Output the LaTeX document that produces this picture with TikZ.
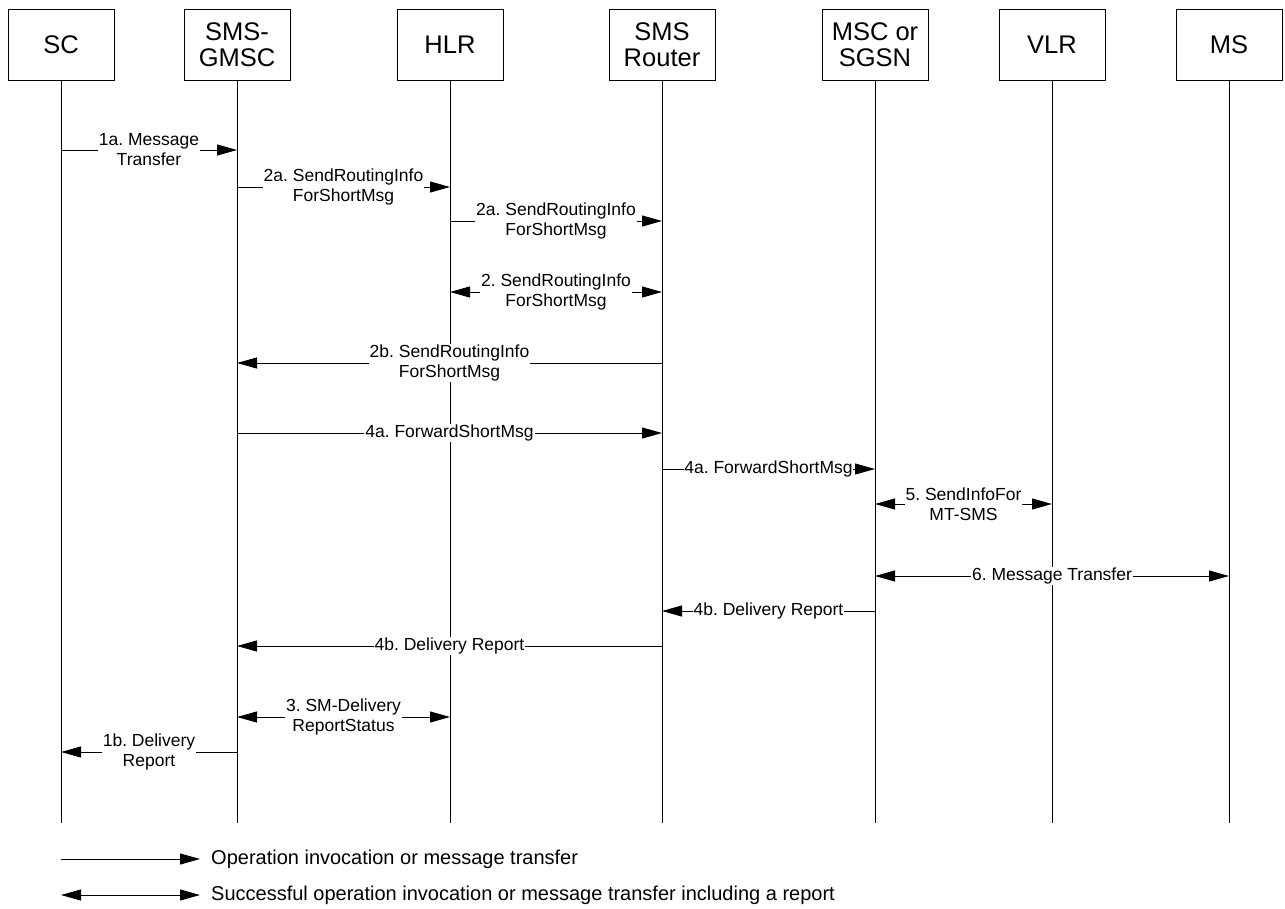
\documentclass[tikz,border=0pt]{standalone}
\usepackage{fontspec}
\setmainfont{Liberation Sans}
\usetikzlibrary{arrows.meta}
\frenchspacing

\begin{document}
\begin{tikzpicture}[x=1pt,y=-1pt,
  ent/.style={draw,line width=0.9pt,minimum width=106pt,minimum height=71pt,align=center,font=\fontsize{25.5}{26}\selectfont},
  life/.style={line width=0.9pt},
  msg/.style={line width=0.9pt,-{Triangle[length=20pt,width=11pt]}},
  both/.style={line width=0.9pt,{Triangle[length=20pt,width=11pt]}-{Triangle[length=20pt,width=11pt]}},
  lbl/.style={fill=white,inner sep=1pt,align=center,font=\fontsize{17.5}{20}\selectfont},
  leg/.style={anchor=west,inner sep=0pt,font=\fontsize{20}{22}\selectfont}]
\useasboundingbox (0,0) rectangle (1285,908);
% entities
\node[ent] (sc) at (61,44.5) {SC};
\node[ent] (gmsc) at (237,44.5) {SMS-\\GMSC};
\node[ent] (hlr) at (450,44.5) {HLR};
\node[ent] (rtr) at (662,44.5) {SMS\\Router};
\node[ent] (msc) at (875,44.5) {MSC or\\SGSN};
\node[ent] (vlr) at (1052,44.5) {VLR};
\node[ent] (ms) at (1229,44.5) {MS};
\foreach \n in {sc,gmsc,hlr,rtr,msc,vlr,ms}
  \draw[life] (\n.south) -- (\n |- 0,823);
% messages
\draw[msg] (sc |- 0,150) -- node[lbl] {1a. Message\\Transfer} (gmsc |- 0,150);
\draw[msg] (gmsc |- 0,187) -- node[lbl] {2a. SendRoutingInfo\\ForShortMsg} (hlr |- 0,187);
\draw[msg] (hlr |- 0,221) -- node[lbl] {2a. SendRoutingInfo\\ForShortMsg} (rtr |- 0,221);
\draw[both] (hlr |- 0,292) -- node[lbl] {2. SendRoutingInfo\\ForShortMsg} (rtr |- 0,292);
\draw[msg] (rtr |- 0,363) -- node[lbl] {2b. SendRoutingInfo\\ForShortMsg} (gmsc |- 0,363);
\draw[msg] (gmsc |- 0,433) -- node[lbl] {4a. ForwardShortMsg} (rtr |- 0,433);
\draw[msg] (rtr |- 0,469) -- node[lbl,inner sep=0.5pt] {4a. ForwardShortMsg} (msc |- 0,469);
\draw[both] (msc |- 0,504) -- node[lbl] {5. SendInfoFor\\MT-SMS} (vlr |- 0,504);
\draw[both] (msc |- 0,576) -- node[lbl] {6. Message Transfer} (ms |- 0,576);
\draw[msg] (msc |- 0,611) -- node[lbl] {4b. Delivery Report} (rtr |- 0,611);
\draw[msg] (rtr |- 0,646) -- node[lbl] {4b. Delivery Report} (gmsc |- 0,646);
\draw[both] (gmsc |- 0,717) -- node[lbl] {3. SM-Delivery\\ReportStatus} (hlr |- 0,717);
\draw[msg] (gmsc |- 0,752) -- node[lbl] {1b. Delivery\\Report} (sc |- 0,752);
% legend
\coordinate (la) at (61,859);
\coordinate (lb) at (61,895);
\node[leg] (lt) at (211,859) {Operation invocation or message transfer};
\node[leg] (lu) at (211,895) {Successful operation invocation or message transfer including a report};
\draw[msg] (la) -- ([xshift=-11pt]lt.west);
\draw[both] (lb) -- ([xshift=-11pt]lu.west);
\end{tikzpicture}
\end{document}
